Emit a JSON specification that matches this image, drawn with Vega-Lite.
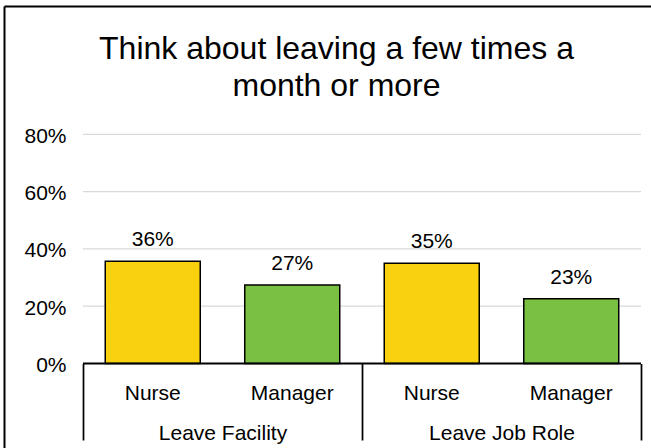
{
  "$schema": "https://vega.github.io/schema/vega-lite/v6.json",
  "width": 647,
  "height": 442,
  "autosize": {"type": "none"},
  "padding": {"left": 4, "top": 6, "right": 0, "bottom": 0},
  "background": "white",
  "config": {
    "view": {"stroke": null},
    "font": "Liberation Sans",
    "axis": {"labelFont": "Liberation Sans", "labelColor": "#000000"}
  },
  "title": {
    "text": ["Think about leaving a few times a", "month or more"],
    "font": "Liberation Sans",
    "fontSize": 32,
    "fontWeight": "normal",
    "color": "#000000",
    "lineHeight": 37,
    "anchor": "middle",
    "frame": "group",
    "orient": "top",
    "offset": -97,
    "dx": 9
  },
  "datasets": {
    "bars": [
      {"key": "LF|Nurse", "role": "Nurse", "group": "Leave Facility", "pct": 0.357},
      {"key": "LF|Manager", "role": "Manager", "group": "Leave Facility", "pct": 0.274},
      {"key": "LJR|Nurse", "role": "Nurse", "group": "Leave Job Role", "pct": 0.35},
      {"key": "LJR|Manager", "role": "Manager", "group": "Leave Job Role", "pct": 0.226}
    ],
    "grid": [
      {"group": "Leave Facility", "pct": 0.2},
      {"group": "Leave Facility", "pct": 0.4},
      {"group": "Leave Facility", "pct": 0.6},
      {"group": "Leave Facility", "pct": 0.8},
      {"group": "Leave Job Role", "pct": 0.2},
      {"group": "Leave Job Role", "pct": 0.4},
      {"group": "Leave Job Role", "pct": 0.6},
      {"group": "Leave Job Role", "pct": 0.8}
    ],
    "base": [
      {"group": "Leave Facility", "pct": 0},
      {"group": "Leave Job Role", "pct": 0}
    ]
  },
  "encoding": {
    "y": {
      "field": "pct",
      "type": "quantitative",
      "scale": {"domain": [-0.29494, 1.24782], "nice": false, "zero": false},
      "axis": {
        "orient": "left",
        "offset": 0,
        "values": [0, 0.2, 0.4, 0.6, 0.8],
        "format": ".0%",
        "domain": true,
        "domainColor": "#000000",
        "domainWidth": 2,
        "ticks": false,
        "grid": false,
        "labelPadding": -62,
        "labelAlign": "right",
        "labelBaseline": "middle",
        "labelOffset": 2,
        "labelFontSize": 21,
        "title": null
      }
    }
  },
  "layer": [
    {
      "data": {"name": "grid"},
      "mark": {"type": "tick", "color": "#D9D9D9", "thickness": 1.3, "size": 279, "opacity": 1},
      "encoding": {
        "x": {
          "field": "group",
          "type": "nominal",
          "scale": {"domain": ["Leave Facility", "Leave Job Role"], "paddingInner": 0, "paddingOuter": 0.1595, "align": 0.8876},
          "axis": {
            "orient": "bottom",
            "offset": -84.5,
            "domain": false,
            "ticks": true,
            "tickBand": "extent",
            "tickSize": 76.5,
            "tickColor": "#000000",
            "tickWidth": 1.75,
            "labelFontSize": 21,
            "labelBaseline": "alphabetic",
            "labelPadding": -1,
            "labelAngle": 0,
            "grid": false,
            "title": null
          }
        }
      }
    },
    {
      "data": {"name": "bars"},
      "layer": [
        {
          "mark": {"type": "bar", "stroke": "#000000", "strokeWidth": 1.5},
          "encoding": {
            "x": {
              "field": "key",
              "type": "nominal",
              "sort": null,
              "scale": {"domain": ["LF|Nurse", "LF|Manager", "LJR|Nurse", "LJR|Manager"], "paddingInner": 0.319, "paddingOuter": 0.4785, "align": 0.7584},
              "axis": {
                "orient": "bottom",
                "offset": -84.5,
                "domain": false,
                "ticks": false,
                "grid": false,
                "labelExpr": "split(datum.label, '|')[1]",
                "labelFontSize": 21,
                "labelBaseline": "alphabetic",
                "labelPadding": 35.5,
                "labelAngle": 0,
                "title": null
              }
            },
            "color": {
              "field": "role",
              "type": "nominal",
              "scale": {"domain": ["Nurse", "Manager"], "range": ["#FAD10F", "#7AC143"]},
              "legend": null
            }
          }
        },
        {
          "mark": {"type": "text", "baseline": "alphabetic", "dy": -15, "fontSize": 21, "color": "#000000", "font": "Liberation Sans"},
          "encoding": {
            "x": {
              "field": "key",
              "type": "nominal",
              "sort": null,
              "scale": {"domain": ["LF|Nurse", "LF|Manager", "LJR|Nurse", "LJR|Manager"], "paddingInner": 0.319, "paddingOuter": 0.4785, "align": 0.7584},
              "axis": {
                "orient": "top",
                "domain": true,
                "domainColor": "#000000",
                "domainWidth": 2,
                "labels": false,
                "ticks": false,
                "grid": false,
                "title": null
              }
            },
            "text": {"field": "pct", "type": "quantitative", "format": ".0%"}
          }
        }
      ]
    },
    {
      "data": {"name": "base"},
      "mark": {"type": "tick", "color": "#000000", "thickness": 2, "size": 279, "opacity": 1},
      "encoding": {
        "x": {
          "field": "group",
          "type": "nominal",
          "scale": {"domain": ["Leave Facility", "Leave Job Role"], "paddingInner": 0, "paddingOuter": 0.1595, "align": 0.8876},
          "axis": null
        }
      }
    }
  ],
  "resolve": {"scale": {"x": "independent"}, "axis": {"x": "independent"}}
}
